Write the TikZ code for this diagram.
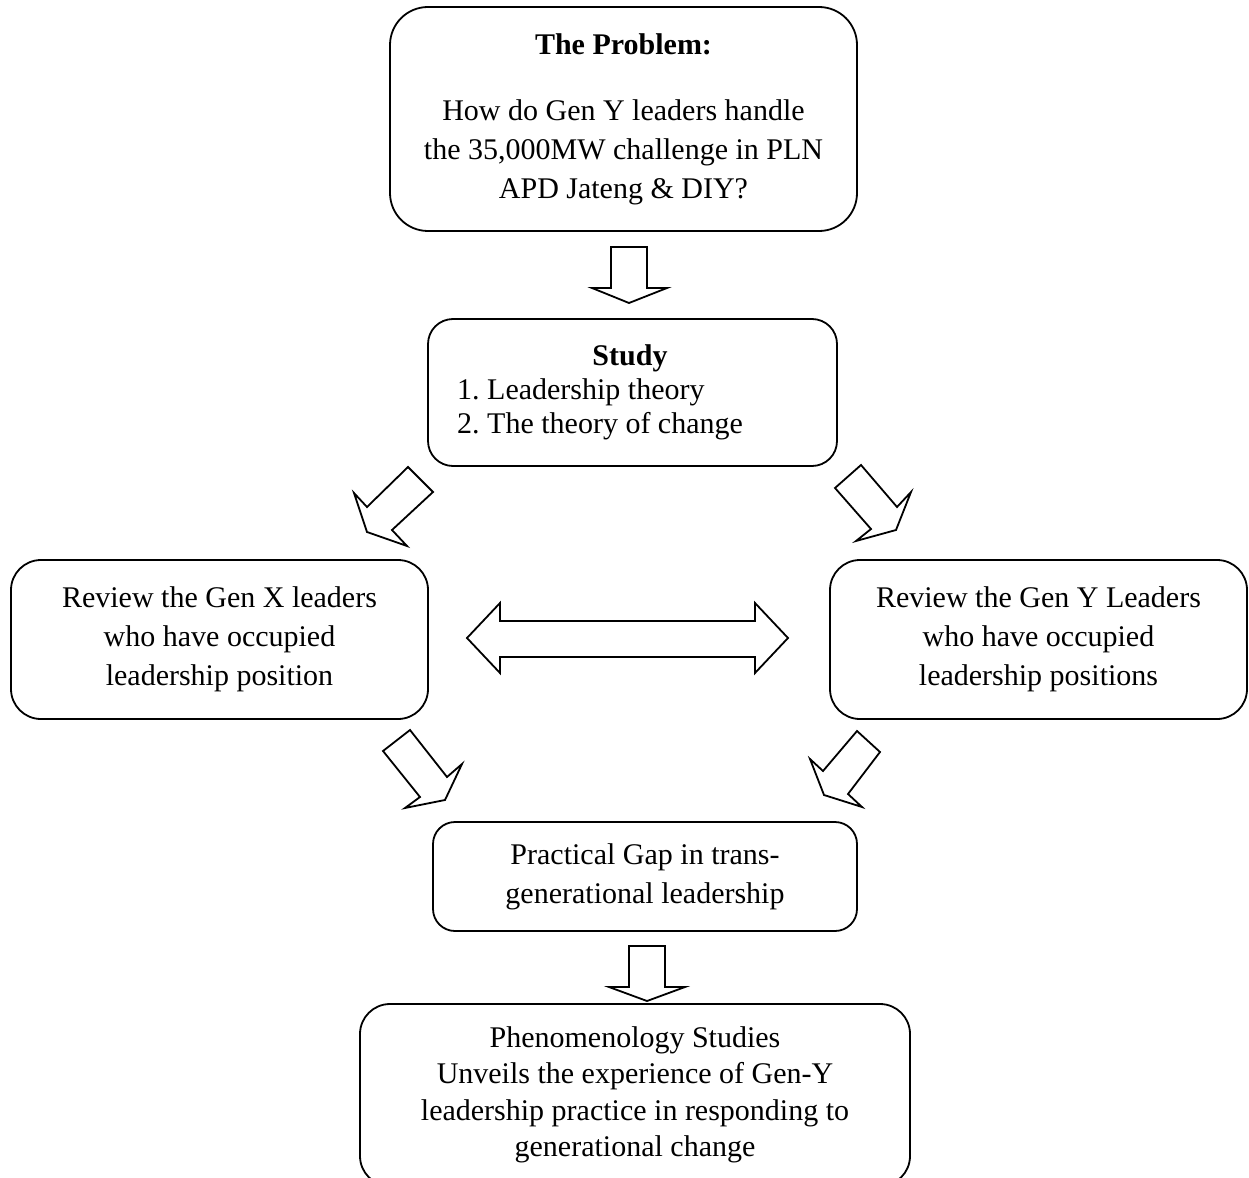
\documentclass[tikz,border=0pt]{standalone}
\usepackage{fontspec}
\setmainfont{Liberation Serif}
\frenchspacing
\begin{document}
\begin{tikzpicture}[x=1pt,y=-1pt,
  every node/.style={font=\fontsize{30}{39}\selectfont},
  box/.style={draw, line width=1.8pt, inner sep=0pt, align=center},
  blockarrow/.style={draw, line width=1.8pt, line join=miter, fill=white}]
\useasboundingbox (0,0) rectangle (1249,1177);
% boxes
\node[box, rounded corners=38pt, minimum width=467pt, minimum height=224pt] (prob) at (623.5,119)
  {\textbf{The Problem:}\\[27pt]How do Gen Y leaders handle\\the 35,000MW challenge in PLN\\APD Jateng \& DIY?};
\node[box, rounded corners=25pt, minimum width=409pt, minimum height=147pt] (study) at (632.5,392.5) {};
\node (studyt) at (630,358) {\textbf{Study}};
\node[anchor=west, inner sep=0pt] (st1) at (457,392) {1.\ Leadership theory};
\node[anchor=west, inner sep=0pt] (st2) at (457,426) {2.\ The theory of change};
\node[box, rounded corners=30pt, minimum width=417pt, minimum height=159pt] (genx) at (219.5,639.5)
  {Review the Gen X leaders\\who have occupied\\leadership position};
\node[box, rounded corners=30pt, minimum width=417pt, minimum height=159pt] (geny) at (1038.5,639.5)
  {Review the Gen Y Leaders\\who have occupied\\leadership positions};
\node[box, rounded corners=22pt, minimum width=424pt, minimum height=109pt] (gap) at (645,876.5)
  {Practical Gap in trans-\\generational leadership};
\node[box, rounded corners=30pt, minimum width=550pt, minimum height=182pt, font=\fontsize{30}{36.5}\selectfont] (phen) at (635,1095)
  {Phenomenology Studies\\Unveils the experience of Gen-Y\\leadership practice in responding to\\generational change};
% block arrows
\draw[blockarrow] (611,247) -- (647,247) -- (647,288) -- (667,288) -- (629,303) -- (592,288) -- (611,288) -- cycle;
\draw[blockarrow] (629,946) -- (665,946) -- (665,987) -- (685,987) -- (647,1001) -- (609,987) -- (629,987) -- cycle;
\draw[blockarrow] (467,638) -- (500,603) -- (500,621) -- (755,621) -- (755,603) -- (788,638) -- (755,673) -- (755,657) -- (500,657) -- (500,673) -- cycle;
\draw[blockarrow] (408,467) -- (433,492) -- (392,530) -- (407,546) -- (367,532) -- (354,493) -- (367,507) -- cycle;
\draw[blockarrow] (861,465) -- (835,488) -- (871,529) -- (856,541) -- (896,530) -- (911,492) -- (897,507) -- cycle;
\draw[blockarrow] (410,730) -- (383,751) -- (420,797) -- (405,808) -- (445,800) -- (462,764) -- (447,777) -- cycle;
\draw[blockarrow] (857,731) -- (880,752) -- (848,794) -- (862,807) -- (824,795) -- (810,759) -- (823,771) -- cycle;
\end{tikzpicture}
\end{document}
